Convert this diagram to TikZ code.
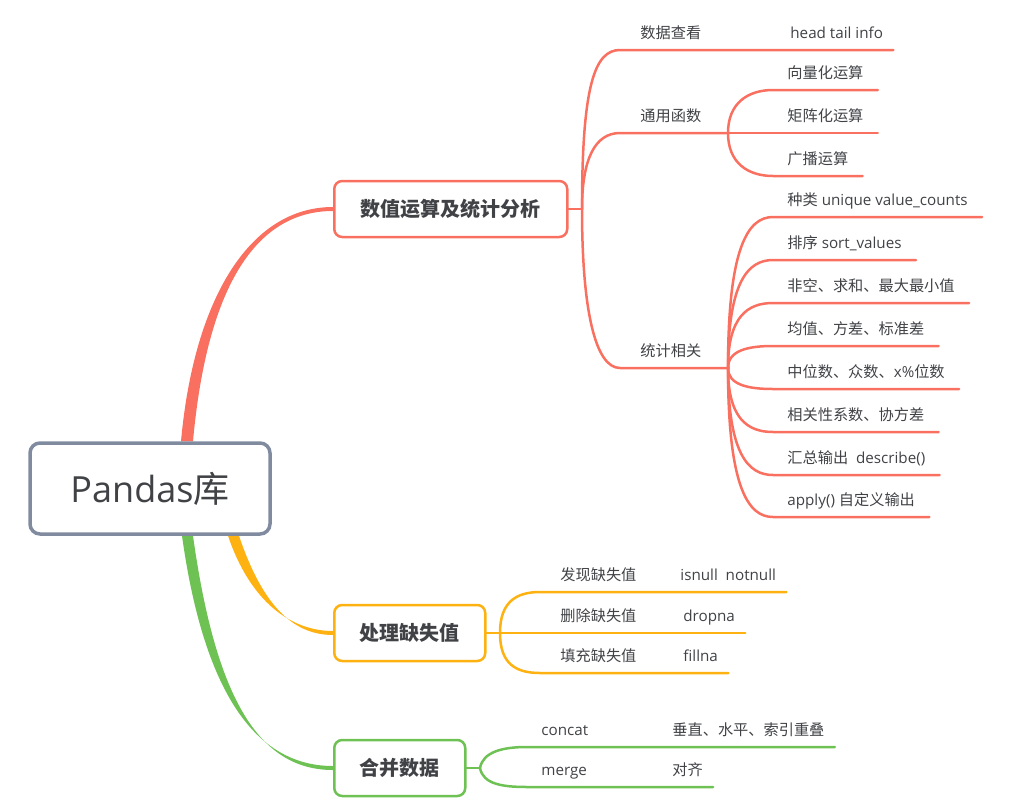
\documentclass[tikz,border=0pt]{standalone}
\usepackage{fontspec}
\setmainfont{Open Sans}
\newfontfamily\cjk{Noto Sans CJK SC}
\usetikzlibrary{backgrounds}
\newcommand{\zh}[1]{{\cjk #1}}

\definecolor{numred}{RGB}{250,112,96}
\definecolor{nullorange}{RGB}{253,178,18}
\definecolor{mergegreen}{RGB}{110,194,84}
\definecolor{rootgray}{RGB}{128,139,160}
\definecolor{inktext}{RGB}{64,66,70}

\begin{document}
\begin{tikzpicture}
	[x=0.5pt,y=-0.5pt,line cap=round,
	%Styles
	root node/.style={draw=rootgray,line width=1.75pt,rounded corners=5pt,fill=white,
		minimum width=120pt,minimum height=45.5pt,font=\fontsize{18pt}{20pt}\selectfont,text=inktext},
	main node/.style={draw=#1,line width=1.25pt,rounded corners=4pt,fill=white,anchor=west,
		minimum height=28pt,font=\fontsize{10pt}{12pt}\selectfont\bfseries,text=inktext},
	leaf/.style={anchor=south west,inner xsep=#1,inner ysep=4pt,text height=6pt,text depth=1.6pt,
		font=\fontsize{7.6pt}{9pt}\selectfont,text=inktext},
	leaf/.default=7pt,
	branch/.style={draw=#1,line width=1.25pt}
	]
	\useasboundingbox (0,0) rectangle (1028,809);
	
	%Main topics
	\node[root node] (root) at (150,488.5) {Pandas\zh{库}};
	\node[main node=numred,minimum width=116.5pt] (calc) at (333,209) {\zh{数值运算及统计分析}};
	\node[main node=nullorange,minimum width=75.5pt] (null) at (333,633) {\zh{处理缺失值}};
	\node[main node=mergegreen,minimum width=65.5pt] (merge) at (333,768) {\zh{合并数据}};
	
	%Tapered main branches
	\begin{scope}[on background layer]
		\fill[numred] ([xshift=15.5pt]root.north) .. controls +(13,-143) and +(-83,0) .. ([yshift=1pt]calc.west)
			-- ([yshift=-1pt]calc.west) .. controls +(-83,0) and +(13,-143) .. ([xshift=21.5pt]root.north) -- cycle;
		\fill[nullorange] ([xshift=39pt]root.south) .. controls +(22,65) and +(-43,0) .. ([yshift=1pt]null.west)
			-- ([yshift=-1pt]null.west) .. controls +(-43,0) and +(22,65) .. ([xshift=44.5pt]root.south) -- cycle;
		\fill[mergegreen] ([xshift=16pt]root.south) .. controls +(23,165) and +(-73,0) .. ([yshift=1pt]merge.west)
			-- ([yshift=-1pt]merge.west) .. controls +(-73,0) and +(23,165) .. ([xshift=21.5pt]root.south) -- cycle;
	\end{scope}
	
	%Numeric operations
	\coordinate (J1) at (582,209);
	\coordinate (J2) at (728,133);
	\coordinate (J3) at (728,368);
	\node[leaf=10pt] (view) at (620,50) {\zh{数据查看}};
	\node[leaf=5pt] (viewv) at (780,50) {head tail info};
	\node[leaf=10pt] (func) at (620,133) {\zh{通用函数}};
	\node[leaf=10pt] (stat) at (620,368) {\zh{统计相关}};
	\node[leaf] (vec) at (773,90) {\zh{向量化运算}};
	\node[leaf] (mat) at (773,133) {\zh{矩阵化运算}};
	\node[leaf] (bcast) at (773,176) {\zh{广播运算}};
	\node[leaf] (s1) at (773,217) {\zh{种类} unique value\_counts};
	\node[leaf] (s2) at (773,260) {\zh{排序} sort\_values};
	\node[leaf] (s3) at (773,303) {\zh{非空、求和、最大最小值}};
	\node[leaf] (s4) at (773,346) {\zh{均值、方差、标准差}};
	\node[leaf] (s5) at (773,389) {\zh{中位数、众数、}x\%\zh{位数}};
	\node[leaf] (s6) at (773,432) {\zh{相关性系数、协方差}};
	\node[leaf] (s7) at (773,475) {\zh{汇总输出}\ \ describe()};
	\node[leaf] (s8) at (773,517) {apply() \zh{自定义输出}};
	
	\draw[branch=numred] (calc.east) -- (J1);
	\draw[branch=numred] (J1) .. controls +(0,-125) and +(-25,0) .. (view.south west) -- (viewv.south east);
	\draw[branch=numred] (J1) .. controls +(0,-50) and +(-25,0) .. (func.south west) -- (J2);
	\draw[branch=numred] (J1) .. controls +(0,100) and +(-25,0) .. (stat.south west) -- (J3);
	\draw[branch=numred] (J2) .. controls +(0,-30) and +(-25,0) .. (vec.south west) -- (vec.south east);
	\draw[branch=numred] (J2) -- (mat.south east);
	\draw[branch=numred] (J2) .. controls +(0,30) and +(-25,0) .. (bcast.south west) -- (bcast.south east);
	\foreach \i/\dy in {1/-151,2/-108,3/-65,4/-22,5/21,6/64,7/107,8/149}
		\draw[branch=numred] (J3) .. controls +(0,0.8*\dy) and +(-25,0) .. (s\i.south west) -- (s\i.south east);
	
	%Missing values
	\coordinate (J4) at (500,633);
	\node[leaf=10pt] (find) at (540,592) {\zh{发现缺失值}};
	\node[leaf=5pt] (findv) at (670,592) {isnull\ \ notnull};
	\node[leaf=10pt] (drop) at (540,633) {\zh{删除缺失值}};
	\node[leaf=5pt] (dropv) at (673,633) {dropna};
	\node[leaf=10pt] (fillin) at (540,673) {\zh{填充缺失值}};
	\node[leaf=5pt] (fillv) at (673,673) {fillna};
	
	\draw[branch=nullorange] (null.east) -- (J4);
	\draw[branch=nullorange] (J4) .. controls +(0,-30) and +(-25,0) .. (find.south west) -- (findv.south east);
	\draw[branch=nullorange] (J4) -- (dropv.south east);
	\draw[branch=nullorange] (J4) .. controls +(0,30) and +(-25,0) .. (fillin.south west) -- (fillv.south east);
	
	%Merging
	\coordinate (J5) at (480,768);
	\node[leaf] (concat) at (527,747) {concat};
	\node[leaf=5pt] (concatv) at (662,747) {\zh{垂直、水平、索引重叠}};
	\node[leaf] (mrg) at (527,787) {merge};
	\node[leaf=5pt] (mrgv) at (662,787) {\zh{对齐}};
	
	\draw[branch=mergegreen] (merge.east) -- (J5);
	\draw[branch=mergegreen] (J5) .. controls +(3,-16) and +(-25,0) .. (concat.south west) -- (concatv.south east);
	\draw[branch=mergegreen] (J5) .. controls +(3,16) and +(-25,0) .. (mrg.south west) -- (mrgv.south east);
\end{tikzpicture}
\end{document}
